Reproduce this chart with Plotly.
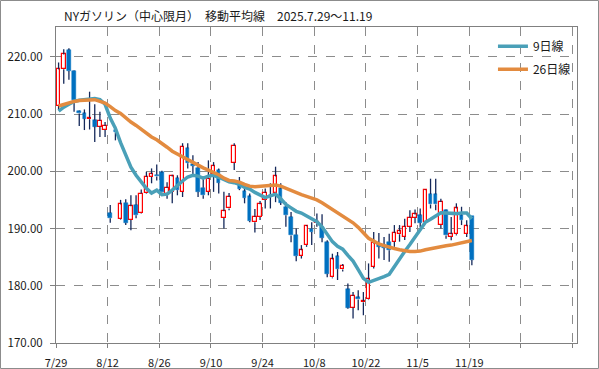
import plotly.graph_objects as go

# ---- data ----
opens = [211.4, 217.8, 221.2, 217.5, 210.5, 210.1, 209.1, 208.9, 207.8, 207.2,
         192.7, 207.2, 191.6, 194.5, 191.5, 194.1, 192.7, 196.2, 199.0, 199.4,
         199.8, 196.1, 196.4, 198.8, 196.4, 204.0, 201.2, 200.6, 197.1, 196.4,
         199.6, 200.2, 191.85, 193.5, 201.5, 197.6, 196.5, 195.6, 191.1, 192.0,
         195.0, 195.9, 196.2, 197.0, 193.8, 192.0, 188.9, 185.2, 187.1, 190.0,
         190.9, 190.3, 187.6, 181.45, 185.15, 182.85, 179.4, 176.2, 178.0, 177.1,
         177.6, 183.3, 187.3, 187.1, 187.7, 187.7, 189.0, 188.55, 190.3, 191.9,
         192.3, 191.15, 196.0, 196.0, 190.6, 193.2, 188.55, 189.0, 192.3, 189.1,
         192.15]
highs = [219.0, 221.3, 221.5, 217.6, 210.6, 210.8, 213.9, 211.7, 210.4, 208.6,
         194.1, 207.9, 195.0, 195.1, 195.8, 195.8, 196.8, 199.9, 200.5, 201.2,
         200.1, 198.1, 199.4, 199.3, 204.9, 204.9, 202.8, 201.6, 198.7, 201.9,
         201.6, 200.5, 196.4, 196.2, 204.9, 199.0, 197.6, 196.1, 193.4, 194.8,
         197.0, 197.9, 200.8, 197.9, 194.6, 192.9, 190.0, 187.1, 190.6, 191.1,
         192.6, 192.5, 187.95, 185.6, 185.9, 183.8, 180.4, 178.9, 179.2, 178.9,
         183.9, 189.4, 189.2, 188.5, 189.1, 190.6, 190.6, 191.7, 193.2, 193.3,
         193.5, 196.8, 198.7, 198.7, 195.2, 193.3, 192.0, 194.4, 193.8, 191.45,
         192.2]
lows = [210.7, 215.3, 216.0, 210.4, 207.9, 207.2, 207.3, 205.1, 206.0, 206.0,
        191.0, 205.4, 191.5, 190.6, 189.7, 191.8, 192.6, 196.1, 197.9, 198.4,
        195.8, 195.2, 194.4, 195.8, 195.5, 200.5, 199.3, 195.5, 195.2, 195.8,
        196.4, 196.1, 190.0, 193.2, 200.2, 196.7, 194.4, 191.1, 189.3, 191.5,
        193.5, 193.5, 194.6, 194.1, 190.3, 187.6, 184.3, 184.75, 186.8, 187.1,
        190.3, 187.6, 181.5, 181.3, 181.0, 182.5, 176.0, 174.3, 175.7, 174.85,
        177.5, 183.0, 184.75, 184.5, 184.2, 186.8, 187.7, 188.0, 189.4, 190.9,
        190.2, 190.9, 193.5, 193.2, 190.0, 188.2, 187.95, 188.8, 190.6, 188.5,
        183.6]
closes = [217.8, 220.4, 217.5, 212.4, 210.1, 209.2, 209.3, 207.8, 208.8, 207.9,
          191.8, 206.8, 194.2, 191.0, 193.9, 192.3, 196.1, 199.0, 199.5, 199.1,
          196.3, 197.1, 199.1, 196.7, 204.3, 201.4, 200.9, 196.4, 195.8, 198.7,
          200.9, 198.0, 193.0, 195.5, 204.4, 196.9, 195.35, 191.3, 192.0, 194.25,
          196.2, 195.6, 199.1, 194.5, 192.3, 188.8, 185.2, 186.2, 190.4, 189.4,
          191.1, 188.4, 182.1, 184.6, 182.9, 183.5, 176.2, 178.2, 177.6, 177.3,
          181.1, 187.4, 186.8, 186.6, 186.2, 189.2, 189.5, 190.3, 191.9, 192.45,
          191.0, 196.7, 194.2, 194.2, 194.65, 188.8, 189.0, 193.5, 191.45, 190.4,
          184.5]
ma9 = [210.5, 211.2, 211.7, 212.2, 212.4, 212.55, 212.65, 212.7, 212.5, 211.7,
       209.3, 207.5, 205.0, 202.8, 200.7, 199.3, 198.1, 197.0, 196.2, 196.7,
       195.9, 196.0, 196.7, 197.6, 198.3, 199.0, 199.3, 199.15, 198.8, 199.15,
       199.3, 198.95, 198.5, 198.15, 198.0, 197.7, 197.2, 196.9, 196.3, 195.8,
       195.4, 195.7, 196.0, 195.2, 194.2, 193.6, 193.0, 192.7, 192.2, 191.6,
       191.2, 190.3, 189.0, 187.7, 186.9, 186.4, 185.3, 184.3, 182.8, 181.3,
       180.6, 180.9, 181.2, 181.6, 182.0, 183.4, 184.8, 186.0, 187.2, 188.5,
       189.9, 191.1, 191.6, 192.2, 192.75, 192.7, 192.6, 192.6, 192.7, 192.7,
       191.7]
ma26 = [211.4, 211.7, 212.0, 212.2, 212.35, 212.45, 212.55, 212.5, 212.2, 211.9,
        211.3, 210.6, 210.1, 209.3, 208.6, 208.0, 207.3, 206.6, 206.0, 205.5,
        204.9, 204.2, 203.5, 203.0, 202.5, 202.0, 201.6, 201.1, 200.6, 200.2,
        199.8, 199.4, 198.8, 198.4, 198.3, 198.1, 197.7, 197.4, 197.3, 197.4,
        197.5, 197.6, 197.6, 197.4, 197.0, 196.6, 196.2, 195.9, 195.6, 195.3,
        195.0, 194.5, 193.9, 193.3, 192.7, 192.2, 191.6, 191.0, 190.2, 189.2,
        188.3, 187.8, 187.3, 187.0, 186.7, 186.5, 186.3, 186.1, 186.0, 186.0,
        186.05, 186.3, 186.5, 186.7, 186.85, 187.0, 187.1, 187.3, 187.5, 187.7,
        187.9]
tick_labels = ["7/29", "8/12", "8/26", "9/10", "9/24", "10/8", "10/22", "11/5", "11/19", "", ""]
title_text = "NYガソリン（中心限月）　移動平均線　2025.7.29～11.19"
ma9_name = "9日線"
ma26_name = "26日線"

# ---- styling ----
FONT = "Noto Sans CJK JP"
RED = "#FF0000"
BLUE = "#0070C0"
WICK = "#14285A"
TEAL = "#4AA0B8"
ORANGE = "#E38B3F"
GRID = "#8C8C8C"
TXT = "#1a1a1a"

n = len(closes)
xs = list(range(n))

# wicks: below and above body (so they do not cross hollow bodies)
wx, wy = [], []
for i in xs:
    lo_b = min(opens[i], closes[i])
    hi_b = max(opens[i], closes[i])
    wx += [i, i, None, i, i, None]
    wy += [lows[i], lo_b, None, hi_b, highs[i], None]

MIN_H = 0.25
up_x, up_base, up_h = [], [], []
dn_x, dn_base, dn_h = [], [], []
for i in xs:
    o, c = opens[i], closes[i]
    h = max(abs(c - o), MIN_H)
    if c >= o:
        up_x.append(i); up_base.append(min(o, c)); up_h.append(h)
    else:
        dn_x.append(i); dn_base.append(min(o, c)); dn_h.append(h)

fig = go.Figure()
fig.add_trace(go.Scatter(x=wx, y=wy, mode="lines", line=dict(color=WICK, width=1.3),
                         showlegend=False, hoverinfo="skip"))
fig.add_trace(go.Bar(x=up_x, y=up_h, base=up_base, width=0.68,
                     marker=dict(color="white", line=dict(color=RED, width=1.2)),
                     showlegend=False))
fig.add_trace(go.Bar(x=dn_x, y=dn_h, base=dn_base, width=0.68,
                     marker=dict(color=BLUE, line=dict(color=BLUE, width=0.5)),
                     showlegend=False))
fig.add_trace(go.Scatter(x=xs, y=ma9, mode="lines", name=ma9_name,
                         line=dict(color=TEAL, width=3.5), legendgroup="a"))
fig.add_trace(go.Scatter(x=xs, y=ma26, mode="lines", name=ma26_name,
                         line=dict(color=ORANGE, width=3.5), legendgroup="b"))

L, R, T, B = 56, 22, 27, 26
W, H = 599, 369
pw, ph = W - L - R, H - T - B

fig.update_layout(
    width=W, height=H, autosize=False,
    margin=dict(l=L, r=R, t=T, b=B, autoexpand=False),
    paper_bgcolor="white", plot_bgcolor="white",
    barmode="overlay", bargap=0,
    font=dict(family=FONT, size=11, color=TXT),
    showlegend=True,
    legend=dict(x=0.998, y=0.985, xanchor="right", yanchor="top",
                bgcolor="rgba(0,0,0,0)", font=dict(family=FONT, size=12, color=TXT),
                traceorder="grouped", tracegroupgap=4, itemwidth=30),
    annotations=[dict(text=title_text, xref="paper", yref="paper",
                      x=(62 - L) / pw, y=(H - B - 15) / ph, xanchor="left", yanchor="middle",
                      showarrow=False, font=dict(family=FONT, size=12, color=TXT))],
    shapes=[dict(type="rect", xref="paper", yref="paper",
                 x0=(0.5 - L) / pw, x1=(W - 0.5 - L) / pw,
                 y0=(0.5 - B) / ph, y1=(H - 0.5 - B) / ph,
                 line=dict(color="#8C8C8C", width=1), layer="above")],
)
fig.update_xaxes(
    range=[-0.5, 100.35],
    automargin=False,
    tickmode="array",
    tickvals=[-0.5 + 10 * k for k in range(len(tick_labels))],
    ticktext=tick_labels,
    showgrid=True, gridcolor=GRID, griddash="dash", gridwidth=1,
    showline=True, linecolor="#808080", linewidth=1, mirror=True,
    ticks="outside", ticklen=4, tickcolor="#808080",
    ticklabelstandoff=6,
    tickfont=dict(family=FONT, size=11, color=TXT),
    zeroline=False,
)
fig.update_yaxes(
    range=[170, 225.2],
    automargin=False,
    tickmode="array",
    tickvals=[170, 180, 190, 200, 210, 220],
    tickformat=".2f",
    showgrid=True, gridcolor=GRID, griddash="dash", gridwidth=1,
    showline=True, linecolor="#808080", linewidth=1, mirror=True,
    ticks="outside", ticklen=5, tickcolor="#808080",
    ticklabelstandoff=5,
    tickfont=dict(family=FONT, size=11.5, color=TXT),
    zeroline=False,
)
post = ("document.body.style.margin='0';"
        "document.body.style.padding='0';"
        "document.documentElement.style.overflow='hidden';"
        "document.body.style.overflow='hidden';")
fig.write_html("out.html", post_script=post,
               config={"displayModeBar": False, "responsive": False})
